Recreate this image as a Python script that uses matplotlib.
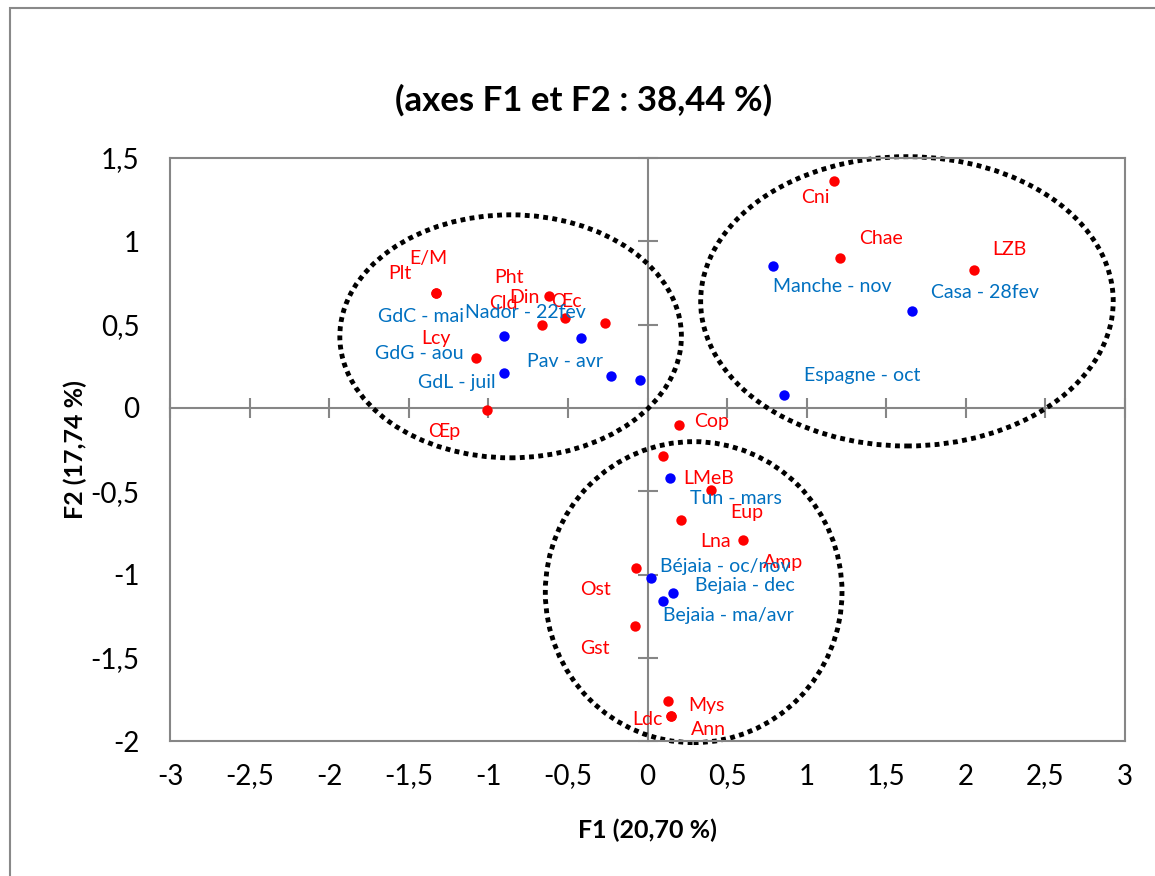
import numpy as np
import matplotlib.pyplot as plt
from matplotlib.patches import Ellipse, Rectangle

plt.rcParams['font.family'] = ['Lato', 'DejaVu Sans']

# red points (variables) - two labels share a dot in two places
red_names = ['Plt', 'E/M', 'Pht', 'Cld', 'Din', 'Œc', 'Lcy', 'Œp', 'Cop', 'LMeB', 'Eup',
             'Lna', 'Amp', 'Ost', 'Gst', 'Mys', 'Ldc', 'Ann', 'Cni', 'Chae', 'LZB']
red_x = [-1.33, -1.33, -0.62, -0.66, -0.52, -0.27, -1.08, -1.01, 0.20, 0.10, 0.40,
         0.21, 0.60, -0.07, -0.08, 0.13, 0.15, 0.15, 1.17, 1.21, 2.05]
red_y = [0.69, 0.69, 0.67, 0.50, 0.54, 0.51, 0.30, -0.01, -0.10, -0.29, -0.49,
         -0.67, -0.79, -0.96, -1.31, -1.76, -1.85, -1.85, 1.36, 0.90, 0.83]

# blue points (stations / months)
blue_names = ['GdC - mai', 'Nador - 22fev', 'GdG - aou', 'Pav - avr', 'GdL - juil',
              'Tun - mars', 'Béjaia - oc/nov', 'Bejaia - dec', 'Bejaia - ma/avr',
              'Manche - nov', 'Casa - 28fev', 'Espagne - oct']
blue_x = [-0.90, -0.42, -0.90, -0.23, -0.05, 0.14, 0.02, 0.16, 0.10, 0.79, 1.66, 0.86]
blue_y = [0.43, 0.42, 0.21, 0.19, 0.17, -0.42, -1.02, -1.11, -1.16, 0.85, 0.58, 0.08]

xticks = [-3, -2.5, -2, -1.5, -1, -0.5, 0, 0.5, 1, 1.5, 2, 2.5, 3]
yticks = [-2, -1.5, -1, -0.5, 0, 0.5, 1, 1.5]

# label offsets in pixels (moved by hand in the original)
red_off = [(-36, 19), (-7, 34), (-40, 19), (-39, 21), (-40, 20), (-38, 21), (-40, 19),
           (-42, -22), (32, 3), (45, -22), (36, -23), (35, -22), (40, -23), (-41, -22),
           (-40, -22), (38, -4), (-24, -3), (37, -13), (-18, -16), (41, 19), (36, 20)]
blue_off = [(-83, 20), (-55, 25), (-85, 19), (-46, 15), (-183, -3), (66, -21), (75, 11),
            (72, 7), (65, -14), (59, -20), (73, 19), (78, 19)]

# groups drawn as dotted ellipses: centre, width, height
ell_cx = [-0.86, 1.63, 0.29]
ell_cy = [0.43, 0.64, -1.105]
ell_w = [2.146, 2.592, 1.864]
ell_h = [1.458, 1.736, 1.806]

grey = '#868686'
rect = [170/1155, 1 - 741.3/876, 955/1155, 583.3/876]

fig = plt.figure(figsize=(11.55, 8.76), dpi=100)

# zero axes with cross ticks, underneath everything
axz = fig.add_axes(rect, zorder=0)
axz.set_xlim(-3, 3)
axz.set_ylim(-2, 1.5)
for s in ['top', 'right']:
    axz.spines[s].set_visible(False)
for s in ['left', 'bottom']:
    axz.spines[s].set_position(('data', 0))
    axz.spines[s].set_color(grey)
    axz.spines[s].set_linewidth(1.5)
axz.set_xticks(xticks)
axz.set_yticks(yticks)
axz.tick_params(direction='inout', length=14, width=1.5, color=grey,
                labelbottom=False, labelleft=False)

ax = fig.add_axes(rect, zorder=1)
ax.patch.set_alpha(0)
ax.set_xlim(-3, 3)
ax.set_ylim(-2, 1.5)
for s in ax.spines.values():
    s.set_color(grey)
    s.set_linewidth(1.5)
ax.set_xticks(xticks)
ax.set_yticks(yticks)
ax.set_xticklabels([('%g' % v).replace('.', ',') for v in xticks])
ax.set_yticklabels([('%g' % v).replace('.', ',') for v in yticks])
ax.tick_params(length=0, labelsize=20, pad=16)
ax.tick_params(axis='y', pad=22)

ax.scatter(red_x, red_y, s=56, color='#FF0000', zorder=3, linewidths=0)
ax.scatter(blue_x, blue_y, s=56, color='#0000FF', zorder=3, linewidths=0)

for n, x, y, o in zip(red_names, red_x, red_y, red_off):
    ax.annotate(n, (x, y), xytext=o, textcoords='offset pixels', ha='center',
                va='center', fontsize=14, color='#FF0000', zorder=4)
for n, x, y, o in zip(blue_names, blue_x, blue_y, blue_off):
    ax.annotate(n, (x, y), xytext=o, textcoords='offset pixels', ha='center',
                va='center', fontsize=14, color='#0070C0', zorder=4)

for cx, cy, w, h in zip(ell_cx, ell_cy, ell_w, ell_h):
    ax.add_patch(Ellipse((cx, cy), w, h, fill=False, edgecolor='black', lw=3.5,
                         linestyle=(0, (1, 0.9)), clip_on=False, zorder=2))

ax.set_xlabel('F1 (20,70 %)', fontsize=18, fontweight='bold', va='center')
ax.xaxis.set_label_coords(0.5, -0.152)
ax.set_ylabel('F2 (17,74 %)', fontsize=18, fontweight='bold', va='center')
ax.yaxis.set_label_coords(-0.0995, 0.5)

fig.text(584/1155, 1 - 100/876, '(axes F1 et F2 : 38,44 %)', fontsize=25,
         fontweight='bold', ha='center', va='center')

# chart area border (only left and top edges are inside the picture)
fig.add_artist(Rectangle((10/1155, -0.1), 1.2, 1.1 - 8/876, fill=False,
                         edgecolor='#898989', lw=1.5, transform=fig.transFigure))

fig.savefig('out.png', dpi=100)
plt.close(fig)
